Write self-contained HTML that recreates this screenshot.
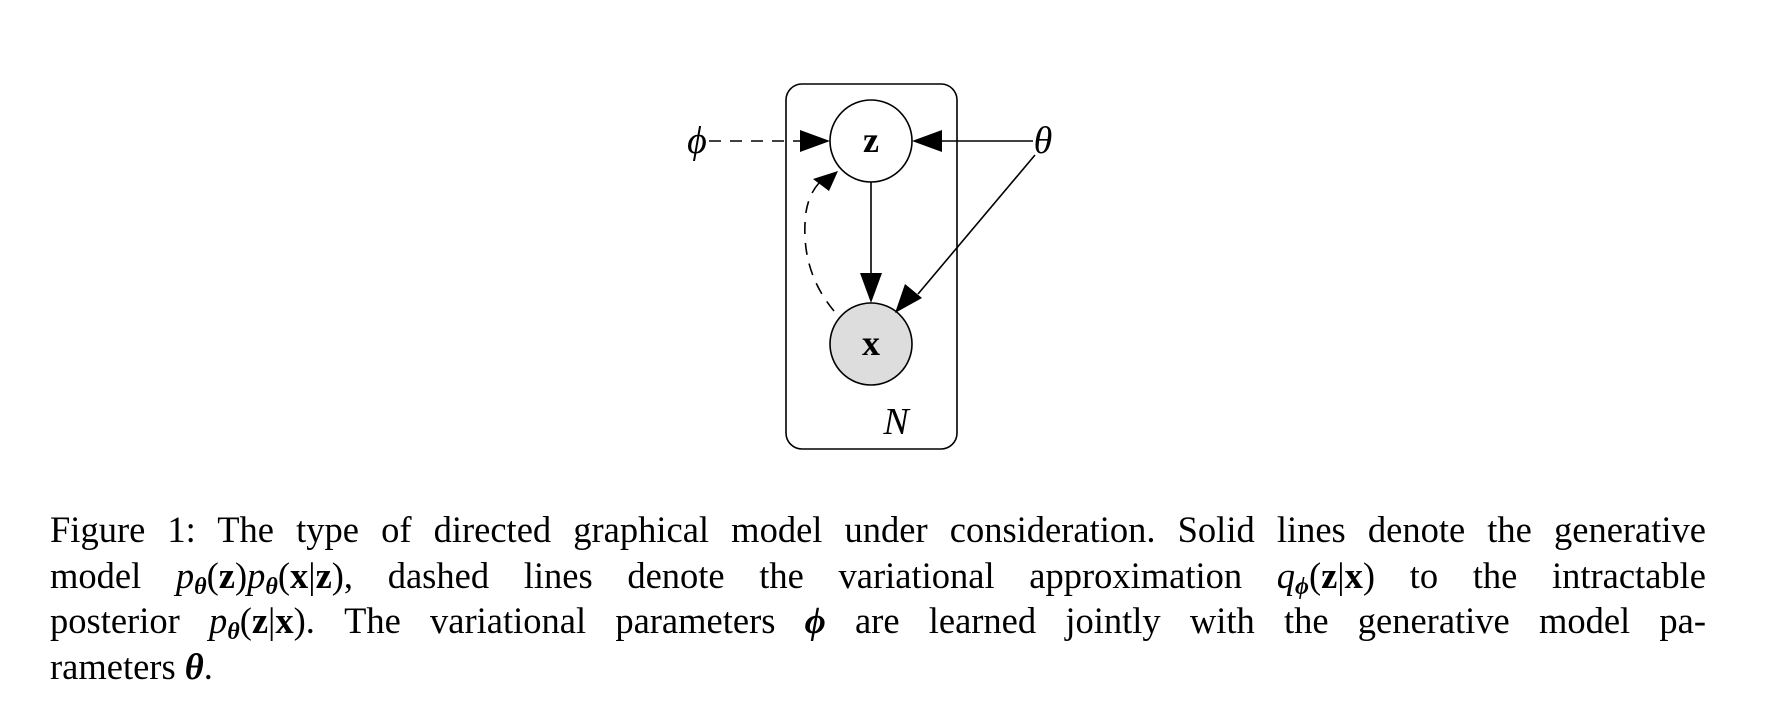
<!DOCTYPE html>
<html><head><meta charset="utf-8"><style>
body{margin:0;width:1770px;height:724px;background:#fff;overflow:hidden;position:relative;font-family:"Liberation Serif",serif}
svg{position:absolute;left:0;top:0}
.cap{position:absolute;left:50px;top:507px;width:1656px;font-size:36.5px;line-height:45.5px;color:#000}
.l{display:block;text-align:justify;text-align-last:justify;white-space:nowrap;height:45.5px}
.l.last{text-align-last:left}
i{font-style:italic}
b{font-weight:bold}
sub{font-size:24px;vertical-align:-6px;line-height:0}
</style></head><body>
<svg width="1770" height="724" viewBox="0 0 1770 724">
<g transform="translate(-9,-3)">
<rect x="795" y="87" width="171" height="365" rx="16" fill="none" stroke="#000" stroke-width="1.6"/>
<circle cx="880" cy="144" r="41" fill="#fff" stroke="#000" stroke-width="1.6"/>
<circle cx="880" cy="347" r="41" fill="#ddd" stroke="#000" stroke-width="1.6"/>
<text x="880" y="155" font-family="Liberation Serif" font-weight="bold" font-size="36" text-anchor="middle">z</text>
<text x="880" y="358" font-family="Liberation Serif" font-weight="bold" font-size="36" text-anchor="middle">x</text>
<text x="706" y="156" font-family="Liberation Serif" font-style="italic" font-size="38" text-anchor="middle">ϕ</text>
<text x="1052" y="156" font-family="Liberation Serif" font-style="italic" font-size="38" text-anchor="middle">θ</text>
<text x="905" y="437" font-family="Liberation Serif" font-style="italic" font-size="38" text-anchor="middle">N</text>
<line x1="718" y1="144" x2="812" y2="144" stroke="#000" stroke-width="1.6" stroke-dasharray="12,9"/>
<polygon points="839,144 809,133 809,155" fill="#000"/>
<line x1="1042" y1="144" x2="948" y2="144" stroke="#000" stroke-width="1.6"/>
<polygon points="921,144 951,133 951,155" fill="#000"/>
<line x1="880" y1="185" x2="880" y2="280" stroke="#000" stroke-width="1.6"/>
<polygon points="880,306 869,276 891,276" fill="#000"/>
<line x1="1044" y1="158" x2="927" y2="297" stroke="#000" stroke-width="1.6"/>
<polygon points="904,316 914,287 931,301" fill="#000"/>
<path d="M843,314 Q808,272 815,215 Q818,197 828,186" fill="none" stroke="#000" stroke-width="1.6" stroke-dasharray="12,9"/>
<polygon points="847,174 822,182 838,194" fill="#000"/>
</g>
</svg>
<div class="cap">
<span class="l">Figure 1: The type of directed graphical model under consideration. Solid lines denote the generative</span>
<span class="l">model <i>p</i><sub><b><i>θ</i></b></sub>(<b>z</b>)<i>p</i><sub><b><i>θ</i></b></sub>(<b>x</b>|<b>z</b>), dashed lines denote the variational approximation <i>q</i><sub><b><i>ϕ</i></b></sub>(<b>z</b>|<b>x</b>) to the intractable</span>
<span class="l">posterior <i>p</i><sub><b><i>θ</i></b></sub>(<b>z</b>|<b>x</b>). The variational parameters <b><i>ϕ</i></b> are learned jointly with the generative model pa-</span>
<span class="l last">rameters <b><i>θ</i></b>.</span>
</div>
</body></html>
